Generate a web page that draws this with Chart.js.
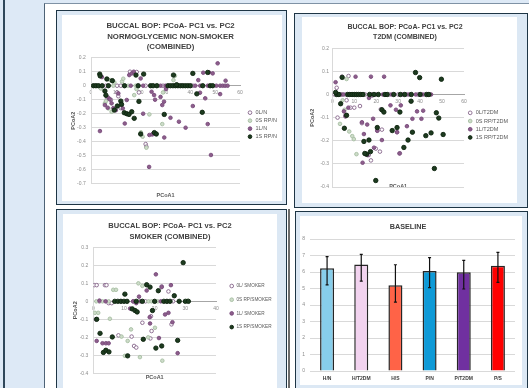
<!DOCTYPE html>
<html>
<head>
<meta charset="utf-8">
<script src="https://cdn.jsdelivr.net/npm/chart.js@4.4.1/dist/chart.umd.min.js"></script>
<style>
  html, body { margin: 0; padding: 0; }
  body { width: 529px; height: 388px; overflow: hidden; position: relative; background: #dde9f6; }
  .abs { position: absolute; }
  .panel { position: absolute; box-sizing: border-box; border: 1.5px solid #1e3545; background: #dce8f4; }
  .white { position: absolute; background: #fff; }
  canvas { position: absolute; }
</style>
</head>
<body>
<div class="abs" style="left:3px;top:0;width:1.5px;height:388px;background:#2f475a"></div>
<div class="abs" style="left:44px;top:3px;right:0;bottom:0;background:#fff;border-left:1.5px solid #4d6276;border-top:1.5px solid #7f92a5"></div>

<div class="panel" style="left:55.5px;top:9.5px;width:231.5px;height:195.5px"></div>
<div class="white" style="left:62px;top:15px;width:220px;height:186px"></div>
<canvas id="c1" style="left:62px;top:15px" width="220" height="186"></canvas>

<div class="panel" style="left:294px;top:12.5px;width:233.5px;height:195px"></div>
<div class="white" style="left:302px;top:17px;width:215px;height:186px"></div>
<canvas id="c2" style="left:302px;top:17px" width="215" height="186"></canvas>

<div class="panel" style="left:55.5px;top:208.5px;width:231.5px;height:190px"></div>
<div class="abs" style="left:288px;top:208.5px;width:2px;height:180px;background:#6b6b6b"></div>
<div class="white" style="left:63px;top:214px;width:214px;height:174px"></div>
<canvas id="c3" style="left:63px;top:214px" width="214" height="174"></canvas>

<div class="panel" style="left:295px;top:211px;width:232.5px;height:190px"></div>
<div class="white" style="left:300px;top:215.5px;width:222px;height:169px"></div>
<canvas id="c4" style="left:301px;top:216px" width="221" height="169"></canvas>

<script>
// ---- data ----
// normoglycemic non-smoker  [PCoA1, PCoA2]
const nonSmoker0L = [[6,0],[10.5,0],[12,0],[22,0],[29,0],[36.5,0],[41,0],[10.5,-0.048],[11,-0.075],[15.7,0.1],[18.4,0.098],[22,-0.417],[22.3,-0.436],[25,-0.345],[19.3,-0.048],[6.5,-0.09],[8,-0.1],[12,-0.16]];
const nonSmoker0S = [[4,-0.02],[9,0],[15,0],[18,0],[27,0],[7.7,0.04],[9.4,0.024],[12.5,0.03],[13,0.05],[5.6,-0.126],[7,-0.162],[8.3,-0.186],[6,-0.11],[17.4,-0.067],[18.3,-0.024],[20.1,-0.333],[20.8,-0.364],[22.3,-0.443],[23.5,-0.205],[28.7,-0.274],[29,-0.048],[33.2,0.04],[33.8,0.071]];
const nonSmoker1L = [[16,0],[21,0],[28,0],[30,0],[42,0],[44,0],[47,0],[50.5,0],[52,0],[53,0],[54,0],[55,0],[3.6,-0.324],[4.4,0.062],[7,-0.086],[7.6,-0.098],[8.3,-0.126],[5.6,-0.138],[6.7,-0.157],[9,-0.16],[10,-0.175],[11,-0.055],[12.8,-0.162],[13.6,-0.27],[14.4,-0.102],[15.4,0.076],[16.4,0.088],[17.2,0.1],[20,0.052],[21,-0.2],[23.4,-0.58],[23.5,-0.352],[24.4,-0.043],[24.6,-0.348],[25.4,-0.067],[25.8,-0.1],[28,-0.08],[28.7,-0.138],[29.4,-0.114],[29.5,-0.37],[30.2,-0.024],[32,-0.229],[35.4,-0.257],[38.1,-0.3],[41,-0.145],[43.2,0.04],[43.9,-0.05],[45.2,0.093],[46,-0.09],[47,-0.274],[47.5,0.095],[48.3,-0.495],[49,0.088],[51,0.16],[52,-0.06],[54.2,0.036]];
const nonSmoker1S = [[1,0],[2,0],[3,0],[4.5,0],[7,0],[13.5,0],[19,0],[24,0],[25,0],[26.5,0],[31,0],[32,0],[33,0],[34,0],[35,0],[36,0],[37,0],[38,0],[39,0],[40,0],[45,0],[48,0],[49,0],[3.5,0.083],[3.7,0.07],[6.4,0.048],[8.6,0.036],[5.6,-0.038],[6,-0.068],[9.4,-0.174],[10.6,-0.145],[12,-0.11],[12.3,-0.133],[13.4,-0.193],[14.4,-0.2],[15.3,-0.205],[16.4,-0.186],[17.4,-0.233],[18.1,0.076],[19.3,-0.112],[20,-0.345],[21.2,0.083],[25.5,-0.335],[26.3,-0.345],[29.5,-0.205],[33.2,0.076],[34.5,0.007],[41,0.088],[42.6,-0.058],[44.8,-0.19],[47,0.095]];

// T2DM
const t2dm0L = [[1,0],[6,0],[10,0],[11,0],[15,0],[20,0],[26,0],[30,0],[34,0],[39,0],[42,0],[2,0.029],[2.4,-0.1],[4.4,0.077],[7.4,0.08],[6.5,-0.025],[6,-0.09],[8.3,-0.057],[10,-0.057],[12.6,-0.05],[13.5,-0.124],[15.2,-0.258],[16.6,-0.262],[17.6,-0.285],[18.2,-0.005],[19.8,-0.234],[21.7,-0.247],[20.5,-0.156],[22.6,-0.152],[22.1,-0.064],[29.5,-0.163],[30.8,-0.254]];
const t2dm0S = [[2,0],[3.2,0],[4.5,0],[6.5,0.067],[4.7,-0.025],[5.6,-0.066],[3.5,-0.127],[7.7,-0.16],[9.1,-0.18],[9.8,-0.193],[11,-0.258]];
const t2dm1L = [[4,0],[5,0],[9,0],[18,0],[23,0],[27,0],[32,0],[35,0],[38,0],[41,0],[45,0],[1.5,0.053],[5.3,-0.073],[7.3,-0.057],[6,-0.095],[10.6,0.077],[13.5,-0.12],[14.4,-0.171],[13.8,-0.295],[15.9,-0.13],[16,-0.262],[16.7,-0.015],[17.6,0.077],[18.6,-0.105],[19,-0.23],[20.5,-0.157],[22.6,-0.197],[23.6,0.077],[26.5,-0.047],[29,-0.066],[31.2,-0.047],[29.5,-0.163],[30.6,-0.255],[34,-0.137],[36.5,-0.105],[38.6,-0.073],[40.6,-0.105],[41.4,-0.07]];
const t2dm1S = [[2,0],[3,0],[7,0],[8,0],[9,0],[10,0],[11,0],[12,0],[13,0],[14,0],[17,0],[19,0],[21,0],[24,0],[25,0],[28,0],[31,0],[33,0],[36,0],[40,0],[43,0],[44,0],[1.5,0.009],[4.5,0.074],[3.8,-0.04],[6.5,-0.09],[5.5,-0.146],[14.4,-0.203],[16.7,-0.197],[15.6,-0.258],[17.4,-0.247],[14.8,-0.255],[19.8,-0.372],[20.5,-0.143],[22.6,-0.066],[23.5,-0.076],[27.3,-0.156],[29.5,-0.143],[30.8,-0.076],[32.6,-0.229],[34.5,-0.197],[35.9,-0.029],[36.5,-0.163],[37.9,0.095],[39.8,0.073],[42.6,-0.178],[45,-0.166],[46.5,-0.32],[47.4,-0.079],[48.5,-0.102],[49.7,0.066],[50.5,-0.173]];

// smoker
const smoker0L = [[2,0],[9,0],[13,0],[17,0],[20,0],[26,0],[0.3,0.09],[1.1,0.09],[3.8,0.09],[4.3,0.09],[0.8,-0.1],[5,-0.01],[6,-0.01],[8.2,-0.189],[12.5,-0.196],[13.3,-0.248],[14,-0.257],[16,-0.119],[19,-0.165],[18.6,-0.206],[18.8,-0.083],[22.3,0.083],[24.5,0.055],[25.5,-0.128]];
const smoker0S = [[1,0],[3,0],[5,0],[11,0],[15,0],[18,0],[19,0],[21,0],[28,0],[0.5,-0.064],[1.6,-0.064],[6.5,0.064],[7.4,0.064],[5.4,-0.097],[9.2,-0.196],[11.2,-0.22],[10.3,-0.303],[12.3,-0.156],[14.7,0.1],[16,0.086],[15.2,-0.31],[17.9,-0.2],[20.1,-0.147],[22.5,-0.33],[30.7,0.004]];
const smoker1L = [[4,0],[13,0],[15.5,0],[22,0],[24,0],[1.1,-0.22],[2,0.004],[3,-0.233],[4.1,-0.233],[5,-0.233],[12,-0.04],[14,-0.01],[14.9,0.026],[17.4,0.06],[18.4,-0.088],[18.5,-0.123],[20.4,0.15],[21.4,-0.204],[22.3,0.079],[23.4,-0.073],[24.5,-0.064],[25.3,0.09],[25.8,-0.116],[27.5,-0.288]];
const smoker1S = [[7,0],[8,0],[9,0],[10,0],[11,0],[14,0],[16,0],[20,0],[23,0],[24,0],[25,0],[28,0],[30,0],[31,0],[1.1,-0.1],[2.2,-0.178],[3.3,-0.284],[4.1,-0.272],[5.1,-0.281],[6.2,-0.198],[10.3,0.04],[11.2,-0.303],[12.7,-0.042],[13.6,-0.051],[14.3,-0.059],[16.3,-0.211],[17.4,0.092],[18.5,0.079],[19.3,-0.051],[20.4,-0.26],[21.2,0.059],[22.3,-0.248],[26.4,0.031],[27.5,-0.217],[29.3,0.215]];

const nonSmokerLabels = ['0L/N', '0S RP/N', '1L/N', '1S RP/N'];
const t2dmLabels = ['0L/T2DM', '0S RP/T2DM', '1L/T2DM', '1S RP/T2DM'];
const smokerLabels = ['0L/ SMOKER', '0S RP/SMOKER', '1L/ SMOKER', '1S RP/SMOKER'];

// baseline bars
const barLabels = ['H/N', 'H/T2DM', 'H/S', 'P/N', 'P/T2DM', 'P/S'];
const barMeans = [6.22, 6.46, 5.19, 6.06, 5.98, 6.38];
const barLow = [5.22, 5.45, 4.18, 5.05, 4.97, 5.37];
const barHigh = [6.93, 7.07, 6.44, 6.87, 6.71, 7.19];
const barColors = ['#87ceeb', '#f2d3ef', '#ff6347', '#0e9ad7', '#7030a0', '#ff0000'];

// ---- styling ----
const FONT = "'Liberation Sans', Arial, sans-serif";
const pointLooks = [
  { bg: '#ffffff', border: '#86648a', r: 1.8, order: 3 },
  { bg: '#cddcc9', border: '#a7bea3', r: 1.8, order: 2 },
  { bg: '#8d5e8b', border: '#77497a', r: 1.8, order: 1 },
  { bg: '#1d3b1f', border: '#0d240f', r: 2.2, order: 0 }
];

// move the legend block where the slide had it
const legendShift = {
  id: 'legendShift',
  afterLayout(chart, args, opts) {
    const lg = chart.legend;
    if (!lg) return;
    lg.left += opts.dx; lg.top += opts.dy; lg.bottom += opts.dy;
    lg.right = lg.left + 120;
  }
};

const errorBars = {
  id: 'errorBars',
  afterDatasetsDraw(chart, args, opts) {
    const { ctx } = chart;
    const y = chart.scales.y;
    const meta = chart.getDatasetMeta(0);
    ctx.save();
    ctx.strokeStyle = '#111';
    ctx.lineWidth = 1.2;
    meta.data.forEach((bar, i) => {
      const top = y.getPixelForValue(opts.high[i]);
      const bot = y.getPixelForValue(opts.low[i]);
      ctx.beginPath();
      ctx.moveTo(bar.x, top); ctx.lineTo(bar.x, bot);
      ctx.moveTo(bar.x - 1.5, top); ctx.lineTo(bar.x + 1.5, top);
      ctx.moveTo(bar.x - 1.5, bot); ctx.lineTo(bar.x + 1.5, bot);
      ctx.stroke();
    });
    ctx.restore();
  }
};

function scatterChart(id, g) {
  return new Chart(document.getElementById(id), {
    type: 'scatter',
    data: {
      datasets: g.series.map((pts, i) => ({
        label: g.labels[i],
        data: pts.map(p => ({ x: p[0], y: p[1] })),
        pointStyle: 'circle',
        pointRadius: pointLooks[i].r,
        borderWidth: 0.9,
        backgroundColor: pointLooks[i].bg,
        borderColor: pointLooks[i].border,
        order: pointLooks[i].order
      }))
    },
    options: {
      responsive: false,
      animation: false,
      events: [],
      layout: { padding: { left: 0, right: g.padR, top: 0, bottom: 0 } },
      plugins: {
        tooltip: { enabled: false },
        title: {
          display: true, text: g.title, color: '#404040',
          font: { family: FONT, size: g.titleSize, weight: 'bold', lineHeight: g.titleLH },
          padding: { top: g.titlePadT, bottom: g.titlePadB }
        },
        legend: {
          position: 'right', align: 'start', maxWidth: g.legendW,
          labels: {
            usePointStyle: true, boxHeight: 2.6, padding: g.legendPad, color: '#595959',
            font: { family: FONT, size: g.legendSize },
            sort: (a, b) => a.datasetIndex - b.datasetIndex
          }
        },
        legendShift: { dx: g.dx, dy: g.dy }
      },
      scales: {
        x: {
          type: 'linear', position: { y: 0 }, min: 0, max: g.xMax,
          grid: { display: false, drawTicks: false },
          border: { color: '#a6a6a6', width: 1 },
          ticks: { stepSize: 10, padding: 4, maxRotation: 0, color: '#8c8c8c', font: { family: FONT, size: 5 } }
        },
        x2: {
          type: 'linear', position: 'bottom', display: true,
          grid: { display: false, drawTicks: false },
          border: { display: false },
          ticks: { display: false },
          title: { display: true, text: 'PCoA1', color: '#595959', font: { family: FONT, size: 5.5, weight: 'bold', lineHeight: 1.2 }, padding: { top: 0, bottom: g.xTitlePadB } },
          afterFit: s => { s.height = g.xAxisH; }
        },
        y: {
          min: g.yMin, max: g.yMax,
          grid: { color: '#d9d9d9', drawTicks: false },
          border: { color: '#d9d9d9' },
          ticks: {
            stepSize: 0.1, padding: g.yTickPad, color: '#8c8c8c', font: { family: FONT, size: 5 },
            callback: v => Math.abs(v) < 1e-9 ? '0' : v.toFixed(1)
          },
          title: { display: true, text: 'PCoA2', color: '#595959', font: { family: FONT, size: 5.5, weight: 'bold', lineHeight: 1.2 }, padding: { top: g.yTitlePad, bottom: 0 } },
          afterFit: s => { s.width = g.yAxisW; }
        }
      }
    },
    plugins: [legendShift]
  });
}

scatterChart('c1', {
  series: [nonSmoker0L, nonSmoker0S, nonSmoker1L, nonSmoker1S], labels: nonSmokerLabels,
  title: ['BUCCAL BOP: PCoA- PC1 vs. PC2', 'NORMOGLYCEMIC NON-SMOKER', '(COMBINED)'],
  titleSize: 7.8, titleLH: 1.36, titlePadT: 5.7, titlePadB: 5.2,
  padR: 3, legendW: 39, legendPad: 2.5, legendSize: 5.5, dx: 4.75, dy: 92.4,
  xMax: 60, yMin: -0.7, yMax: 0.2, yAxisW: 29, yTickPad: 5.3, yTitlePad: 7.7,
  xAxisH: 17.3, xTitlePadB: 2.7
});

scatterChart('c2', {
  series: [t2dm0L, t2dm0S, t2dm1L, t2dm1S], labels: t2dmLabels,
  title: ['BUCCAL BOP: PCoA- PC1 vs. PC2', 'T2DM (COMBINED)'],
  titleSize: 7, titleLH: 1.51, titlePadT: 4.4, titlePadB: 5.7,
  padR: 9, legendW: 44, legendPad: 2.7, legendSize: 5.5, dx: 0.75, dy: 90.4,
  xMax: 60, yMin: -0.4, yMax: 0.2, yAxisW: 30.3, yTickPad: 3.3, yTitlePad: 7.4,
  xAxisH: 16, xTitlePadB: 13
});

scatterChart('c3', {
  series: [smoker0L, smoker0S, smoker1L, smoker1S], labels: smokerLabels,
  title: ['BUCCAL BOP: PCoA- PC1 vs. PC2', 'SMOKER (COMBINED)'],
  titleSize: 7.5, titleLH: 1.43, titlePadT: 6.65, titlePadB: 5.25,
  padR: 0, legendW: 61, legendPad: 9, legendSize: 4.7, dx: 4.35, dy: 60.65,
  xMax: 40, yMin: -0.4, yMax: 0.3, yAxisW: 30.3, yTickPad: 5, yTitlePad: 8.7,
  xAxisH: 14.7, xTitlePadB: 7
});

new Chart(document.getElementById('c4'), {
  type: 'bar',
  data: {
    labels: barLabels,
    datasets: [{
      label: 'BASELINE',
      data: barMeans,
      backgroundColor: barColors,
      borderColor: '#262626',
      borderWidth: 1.5,
      barPercentage: 0.41,
      categoryPercentage: 1
    }]
  },
  options: {
    responsive: false,
    animation: false,
    events: [],
    layout: { padding: { left: 0, right: 7, top: 0, bottom: 0 } },
    plugins: {
      legend: { display: false },
      tooltip: { enabled: false },
      title: {
        display: true, text: 'BASELINE', color: '#404040',
        font: { family: FONT, size: 7.25, weight: 'bold', lineHeight: 1.2 },
        padding: { top: 6.35, bottom: 7.95 }
      },
      errorBars: { low: barLow, high: barHigh }
    },
    scales: {
      x: {
        grid: { display: false, drawTicks: false },
        border: { display: false },
        ticks: { padding: 5, color: '#404040', font: { family: FONT, size: 5, weight: 'bold' } },
        afterFit: s => { s.height = 14; }
      },
      y: {
        min: 0, max: 8,
        grid: { color: '#d9d9d9', drawTicks: false },
        border: { display: false },
        ticks: { stepSize: 1, padding: 5, color: '#8c8c8c', font: { family: FONT, size: 5 } },
        afterFit: s => { s.width = 9; }
      }
    }
  },
  plugins: [errorBars]
});
</script>
</body>
</html>
